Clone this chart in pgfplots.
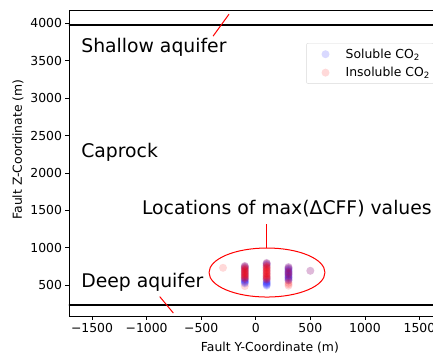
\documentclass[border=0pt]{standalone}
\usepackage{fontspec}
\setmainfont{DejaVu Sans}
\usepackage{pgfplots}
\pgfplotsset{compat=1.18}

\pgfplotstableread{
x z
-100 520
-100 530
-100 540
-100 550
-100 560
-100 570
-100 580
-100 600
-100 620
-100 640
-100 660
-100 680
-100 700
-100 720
-100 735
-100 745
-100 755
100 490
100 500
100 510
100 520
100 530
100 540
100 550
100 570
100 590
100 610
100 650
100 690
100 730
100 765
100 775
100 785
100 795
300 560
300 570
300 580
300 590
300 600
300 610
300 620
300 630
300 640
300 650
300 660
300 670
300 680
300 690
300 700
300 710
300 720
300 730
300 740
500 690
}\soluble

\pgfplotstableread{
x z
-300 730
-100 485
-100 580
-100 590
-100 600
-100 610
-100 620
-100 630
-100 640
-100 650
-100 660
-100 670
-100 680
-100 690
-100 700
-100 710
-100 720
-100 730
-100 745
-100 755
100 570
100 580
100 590
100 600
100 610
100 620
100 630
100 640
100 650
100 660
100 670
100 680
100 690
100 700
100 710
100 720
100 730
100 740
100 750
100 760
100 785
100 795
300 490
300 510
300 530
300 560
300 600
300 640
300 660
300 680
300 720
300 740
500 690
}\insoluble

\begin{document}
\begin{tikzpicture}
\useasboundingbox (-69pt,-41pt) rectangle (364pt,316pt);
\clip (-69pt,-41pt) rectangle (364pt,316pt);
\begin{axis}[
  at={(0pt,0pt)}, anchor=south west,
  scale only axis, width=373.4pt, height=306pt,
  xmin=-1711, xmax=1710, ymin=85, ymax=4180,
  xtick={-1500,-1000,-500,0,500,1000,1500},
  xticklabels={−1500,−1000,−500,0,500,1000,1500},
  ytick={500,1000,1500,2000,2500,3000,3500,4000},
  yticklabels={500,1000,1500,2000,2500,3000,3500,4000},
  tick align=outside, major tick length=3.5pt,
  xtick pos=bottom, ytick pos=left,
  tick style={black, line width=0.8pt},
  axis line style={black, line width=0.8pt},
  tick label style={font=\fontsize{12.4}{14}\selectfont},
  label style={font=\fontsize{12.4}{14}\selectfont},
  xlabel={Fault Y-Coordinate (m)},
  ylabel={Fault Z-Coordinate (m)},
  xlabel style={at={(axis description cs:0.538,-0.1167)}, anchor=base},
  ylabel style={at={(axis description cs:-0.1259,0.544)}, anchor=base, rotate=0},
  legend style={at={(0.635,0.892)}, anchor=north west, draw=black!15,
    rounded corners=2pt, font=\fontsize{12.4}{14}\selectfont,
    inner xsep=2pt, inner ysep=3.5pt, row sep=3.5pt},
  legend image code/.code={%
    \path (0pt,-4pt) rectangle (35pt,4pt);
    \draw[#1] plot coordinates {(17pt,0pt)};},
  legend cell align=left,
  clip=true,
]
\addplot[only marks, mark=*, mark size=4pt, color=blue, fill opacity=0.15, draw opacity=0,
  mark options={fill=blue, draw=blue, line width=0pt}] table[x=x,y=z] {\soluble};
\addplot[only marks, mark=*, mark size=4pt, color=red, fill opacity=0.15, draw opacity=0,
  mark options={fill=red, draw=red, line width=0pt}] table[x=x,y=z] {\insoluble};
\legend{Soluble CO\textsubscript{2}, Insoluble CO\textsubscript{2}}

\addplot[black, line width=2pt, forget plot] coordinates {(-1800,3985) (1800,3985)};
\addplot[black, line width=2pt, forget plot] coordinates {(-1800,238) (1800,238)};

\draw[red, line width=1pt] (axis cs:-391,3830) -- (axis cs:-245,4124);
\draw[red, line width=1pt] (axis cs:100,995) -- (axis cs:100,1310);
\draw[red, line width=1pt] (axis cs:-880,345) -- (axis cs:-755,125);
\draw[red, line width=1pt] (axis cs:103,667) ellipse [x radius=531, y radius=328];

\node[anchor=base west, inner sep=0pt, font=\fontsize{18.8}{22}\selectfont] at (axis cs:-1600,3610) {Shallow aquifer};
\node[anchor=base west, inner sep=0pt, font=\fontsize{18.8}{22}\selectfont] at (axis cs:-1600,2200) {Caprock};
\node[anchor=base west, inner sep=0pt, font=\fontsize{18.8}{22}\selectfont] at (axis cs:-1600,460) {Deep aquifer};
\node[anchor=base west, inner sep=0pt, font=\fontsize{18.8}{22}\selectfont] at (axis cs:-1044,1440) {Locations of max(ΔCFF) values};
\end{axis}
\end{tikzpicture}
\end{document}
